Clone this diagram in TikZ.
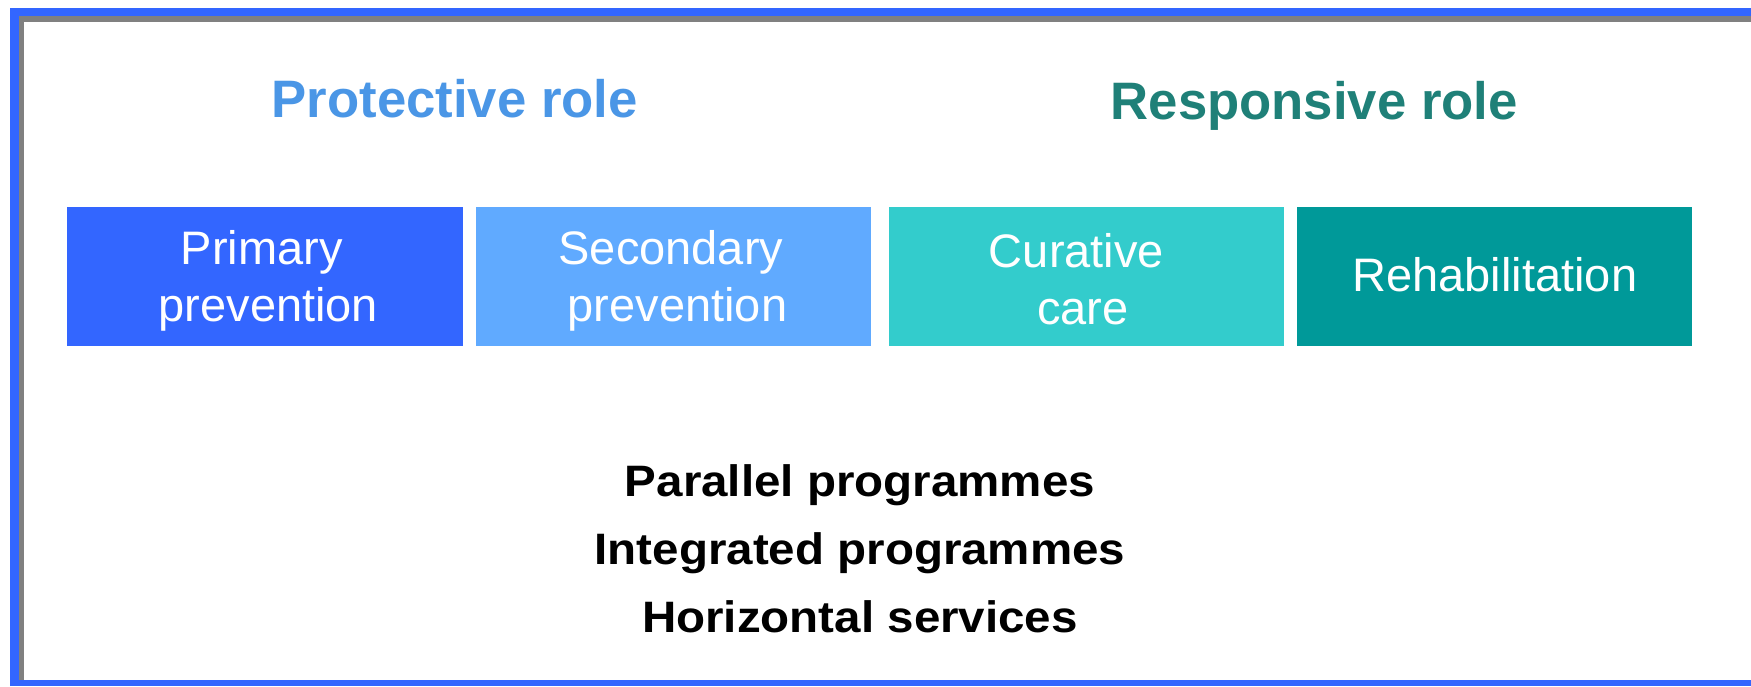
\documentclass[tikz,border=0pt]{standalone}
\usepackage{fontspec}
\setmainfont{Liberation Sans}
\newfontfamily\listfont{Liberation Sans}[FakeStretch=1.08]

\definecolor{frameblue}{HTML}{3366FF}
\definecolor{shadowgray}{HTML}{808080}
\definecolor{primaryc}{HTML}{3366FF}
\definecolor{secondaryc}{HTML}{60AAFF}
\definecolor{curativec}{HTML}{33CCCC}
\definecolor{rehabc}{HTML}{009999}
\definecolor{protectc}{HTML}{4A96E6}
\definecolor{respondc}{HTML}{1F8078}

\tikzset{
  stagebox/.style={rectangle, draw=none, inner sep=0pt, minimum height=139pt},
  stagetext/.style={text=white, align=center, inner sep=0pt,
                    font=\fontsize{47}{57.5}\selectfont},
  roletitle/.style={anchor=base, inner sep=0pt,
                    font=\bfseries\fontsize{52.7}{60}\selectfont},
  modelist/.style={align=center, inner sep=0pt,
                   font=\listfont\bfseries\fontsize{44}{68.3}\selectfont}
}

\begin{document}
\begin{tikzpicture}[x=1pt,y=-1pt]
\useasboundingbox (0,0) rectangle (1751,686);

% frame with a grey inner shadow on the top and left
\fill[frameblue] (10,8) rectangle (1751,686);
\fill[shadowgray] (19,16) rectangle (1751,680);
\fill[white] (24,22) rectangle (1751,680);

% role headings
\node[roletitle, text=protectc] (protective) at (454.7,117.3) {Protective role};
\node[roletitle, text=respondc] (responsive) at (1314.2,119.3) {Responsive role};

% the four stages of care
\node[stagebox, fill=primaryc,   minimum width=396.3pt] (primary)   at (264.85,276) {};
\node[stagebox, fill=secondaryc, minimum width=394.7pt] (secondary) at (673.35,276) {};
\node[stagebox, fill=curativec,  minimum width=394.7pt] (curative)  at (1086.65,276) {};
\node[stagebox, fill=rehabc,     minimum width=395pt]   (rehab)     at (1494.8,276) {};

\node[stagetext] (primarytxt)   at ([xshift=3.5pt,yshift=-4.85pt]primary.center)   {Primary\hspace*{0.28em}\\prevention};
\node[stagetext] (secondarytxt) at ([xshift=4.1pt,yshift=-4.85pt]secondary.center) {Secondary\hspace*{0.28em}\\prevention};
\node[stagetext] (curativetxt)  at ([xshift=-3.6pt,yshift=-3.2pt]curative.center)  {Curative\hspace*{0.28em}\\care};
\node[stagetext] (rehabtxt)     at ([yshift=1.15pt]rehab.center)                   {Rehabilitation};

% delivery modes
\node[modelist] (modes) at (860,548.7)
  {Parallel programmes\\Integrated programmes\\Horizontal services};
\end{tikzpicture}
\end{document}
